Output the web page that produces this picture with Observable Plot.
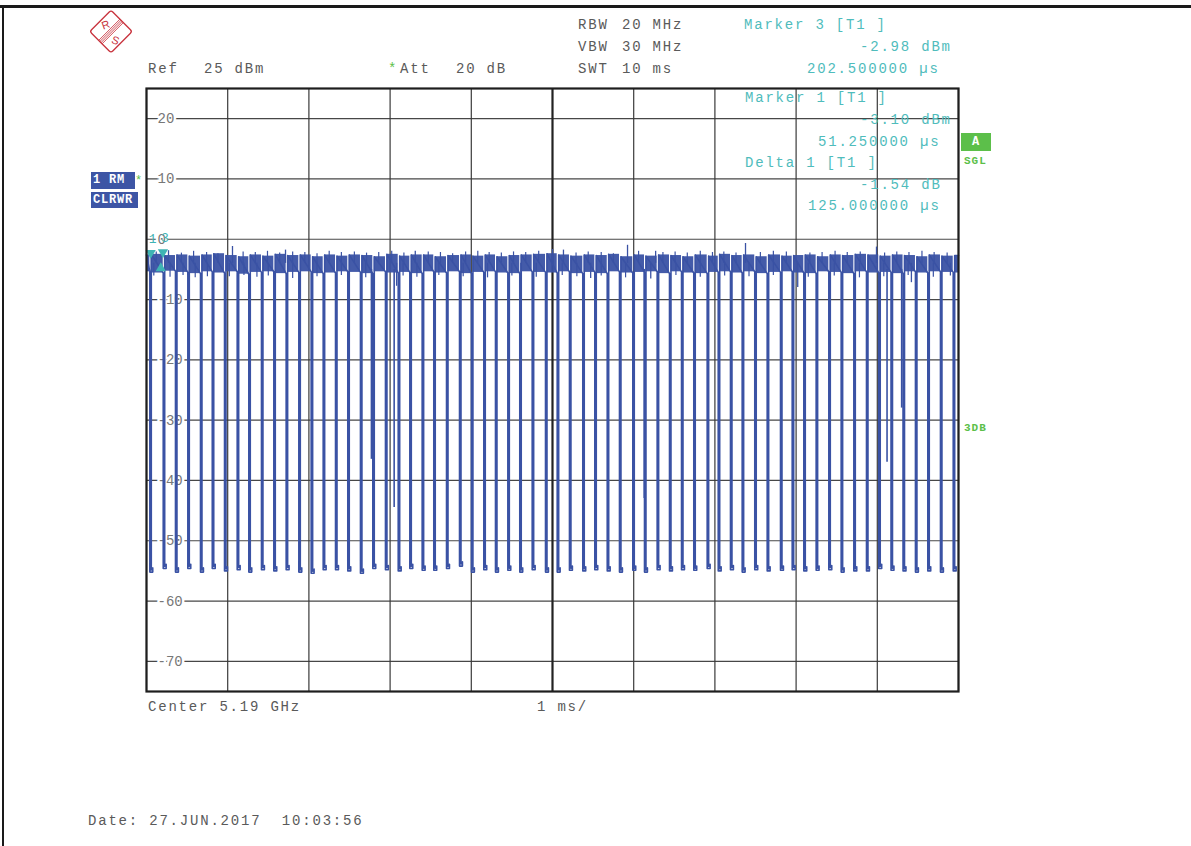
<!DOCTYPE html>
<html><head><meta charset="utf-8">
<script src="https://cdn.jsdelivr.net/npm/d3@7"></script>
<script src="https://cdn.jsdelivr.net/npm/@observablehq/plot@0.6"></script>
<style>
body{margin:0;background:#fff;}
#wrap{position:relative;width:1191px;height:846px;overflow:hidden;font-family:"Liberation Mono","DejaVu Sans Mono",monospace;background:#fff;}
#wrap svg.plot{position:absolute;left:0;top:0;}
.t{position:absolute;font-size:14px;letter-spacing:1.8px;white-space:pre;line-height:14px;transform:translateY(-50%);}
.g{color:#5a5a5a}
.c{color:#4fbcbc}
.gr{color:#5cbf4a}
.box{position:absolute;background:#3d55a5;color:#fff;font-weight:bold;font-size:12px;letter-spacing:0.8px;line-height:17px;padding-left:2px;box-sizing:border-box;}
</style></head>
<body>
<div id="wrap"></div>
<script>
// ---- data ----
const xTicks = [0,1,2,3,4,5,6,7,8,9,10];            // ms, 1 ms/div
const yTicks = [20,10,0,-10,-20,-30,-40,-50,-60,-70]; // dBm
const yLabels = ["20","10","0","-10","-20","-30","-40","-50","-60","-70"];

// dip (gap) times in ms and their depth in dBm
const dipTime = [0.041,0.206,0.357,0.509,0.665,0.810,0.961,1.117,1.260,1.416,
  1.568,1.720,1.876,2.028,2.176,2.328,2.479,2.635,2.787,2.943,
  3.100,3.243,3.395,3.538,3.695,3.855,4.002,4.154,4.298,4.450,
  4.597,4.750,4.914,5.058,5.209,5.373,5.521,5.674,5.825,5.989,
  6.133,6.289,6.441,6.589,6.740,6.905,7.041,7.192,7.336,7.491,
  7.644,7.808,7.952,8.095,8.247,8.403,8.555,8.711,8.867,9.018,
  9.169,9.317,9.470,9.622,9.778,9.935];
const dipDepth = [-55.2,-54.6,-55.2,-54.6,-55.2,-54.6,-55.0,-54.8,-55.2,-54.8,
  -55.0,-54.8,-55.2,-55.4,-54.8,-54.8,-55.0,-55.4,-54.6,-54.8,
  -55.0,-54.6,-54.9,-54.9,-54.6,-54.2,-55.2,-54.8,-55.2,-54.9,
  -55.2,-54.8,-55.2,-55.2,-54.9,-55.0,-54.8,-55.0,-55.2,-54.9,
  -55.2,-54.8,-55.0,-54.8,-54.9,-54.6,-55.0,-54.8,-55.2,-54.8,
  -55.0,-54.9,-54.8,-55.0,-54.9,-54.8,-55.2,-55.0,-55.0,-54.6,
  -54.9,-55.0,-55.2,-55.0,-55.2,-55.0];

// upper / lower edge of the noisy burst level between gaps (dBm)
const bandHigh = [-2.6,-2.5,-2.7,-2.6,-2.8,-2.6,-2.4,-2.7,-2.9,-2.6,
  -2.8,-2.5,-2.7,-2.6,-2.9,-2.6,-2.8,-2.6,-2.7,-2.9,
  -2.5,-2.8,-2.6,-2.6,-2.9,-2.7,-2.6,-2.8,-2.6,-2.9,
  -2.7,-2.6,-2.5,-2.4,-2.6,-2.8,-2.6,-2.7,-2.5,-2.9,
  -2.6,-2.8,-2.6,-2.7,-2.9,-2.6,-2.8,-2.5,-2.7,-2.6,
  -2.9,-2.6,-2.8,-2.7,-2.6,-2.9,-2.6,-2.7,-2.5,-2.6,
  -2.8,-2.6,-2.7,-2.9,-2.6,-2.8,-2.7];
const bandLow = [-5.4,-5.6,-5.3,-5.5,-5.7,-5.4,-5.6,-5.4,-5.8,-5.5,
  -5.4,-5.7,-5.5,-5.4,-5.7,-5.6,-5.4,-5.5,-5.7,-5.4,
  -5.6,-5.5,-5.7,-5.4,-5.6,-5.4,-5.7,-5.5,-5.4,-5.6,
  -5.7,-5.4,-5.5,-5.6,-5.4,-5.7,-5.5,-5.7,-5.4,-5.6,
  -5.5,-5.4,-5.7,-5.4,-5.6,-5.7,-5.5,-5.4,-5.6,-5.4,
  -5.7,-5.5,-5.4,-5.6,-5.7,-5.4,-5.5,-5.7,-5.4,-5.6,
  -5.5,-5.7,-5.4,-5.6,-5.4,-5.5,-5.6];

// isolated peaks above / below the burst level
const spikeTime  = [0.271,1.059,1.712,3.310,5.000,5.135,5.924,6.270,7.377,8.990,
                    1.020,3.080,4.610,5.470,6.210,8.020,9.420];
const spikeLevel = [-1.9,-1.2,-1.8,-2.0,-1.7,-1.8,-1.0,-2.0,-0.7,-1.3,
                    -6.2,-7.8,-6.3,-6.5,-6.6,-8.0,-7.2];

// small flags along the top and bottom edge of the burst level
const flagUpTime = [0.12,0.43,0.58,0.74,0.88,1.19,1.34,1.49,1.64,1.80,1.95,2.10,2.25,2.40,
  2.56,2.71,2.86,3.02,3.17,3.47,3.62,3.77,3.93,4.08,4.22,4.37,4.52,4.67,4.83,5.29,5.44,
  5.60,5.75,6.06,6.36,6.51,6.66,6.82,6.97,7.11,7.26,7.56,7.72,7.88,8.17,8.32,8.48,8.63,
  8.79,9.09,9.24,9.39,9.55,9.70,9.86];
const flagUpLevel = [-2.1,-2.3,-2.0,-2.2,-2.4,-2.1,-2.2,-2.0,-2.3,-2.1,-2.2,-2.4,-2.0,-2.2,
  -2.1,-2.3,-2.2,-2.0,-2.3,-2.1,-2.2,-2.4,-2.1,-2.0,-2.2,-2.3,-2.1,-2.2,-2.0,-2.3,-2.1,
  -2.2,-2.4,-2.0,-2.2,-2.1,-2.3,-2.0,-2.2,-2.1,-2.3,-2.2,-2.0,-2.1,-2.3,-2.2,-2.0,-2.2,
  -2.1,-2.3,-2.1,-2.2,-2.0,-2.2,-2.3];
const flagDownTime = [0.09,0.29,0.45,0.60,0.75,1.20,1.36,1.50,1.80,2.10,2.40,2.70,3.16,3.33,
  3.60,3.90,4.20,4.50,4.80,5.12,5.30,5.60,5.90,6.52,6.82,7.12,7.42,7.72,8.15,8.47,8.78,
  9.08,9.38,9.69,9.90];
const flagDownLevel = [-6.1,-6.3,-6.0,-6.4,-6.2,-6.0,-6.3,-6.1,-6.5,-6.2,-6.0,-6.4,-6.1,-6.3,
  -6.0,-6.2,-6.4,-6.1,-6.3,-6.0,-6.2,-6.1,-6.4,-6.0,-6.3,-6.1,-6.2,-6.0,-6.3,-6.1,-6.4,
  -6.2,-6.0,-6.3,-6.1];

// partial (not fully settled) gaps
const partTime  = [2.770,3.050,6.130,9.120,9.300];
const partLevel = [-36.5,-44.5,-43.0,-37.0,-28.0];

// markers
const markerName = ["1","3"];
const markerTime = [0.05125,0.2025];   // ms
const markerLevel = [-3.10,-2.98];     // dBm
const deltaTime = [0.05125 + 0.125];
const deltaLevel = [-3.10 - 1.54];

const traceColor = "#3a52a4";
const teal = "#3fb4b4";

// ---- build trace ----
const segs = [];
for (let s = 0; s <= dipTime.length; s++) {
  const x1 = s === 0 ? 0 : dipTime[s-1] + 0.018;
  const x2 = s === dipTime.length ? 10 : dipTime[s];
  segs.push({x1, x2, hi: bandHigh[s], lo: bandLow[s]});
}
const pts = [{t: 0, v: bandHigh[0]}];
dipTime.forEach((t, i) => {
  const d = dipDepth[i];
  pts.push({t, v: bandLow[i]});
  pts.push({t, v: d});
  pts.push({t: t + 0.036, v: d});
  pts.push({t: t + 0.036, v: d + 0.7});
  pts.push({t: t + 0.018, v: d + 0.35});
  pts.push({t: t + 0.018, v: bandHigh[i+1]});
});
pts.push({t: 10, v: bandHigh[bandHigh.length-1]});

const spikes = spikeTime.map((t, i) => ({t, v: spikeLevel[i]}));
const flags = flagUpTime.map((t, i) => ({t, v: flagUpLevel[i]}))
  .concat(flagDownTime.map((t, i) => ({t, v: flagDownLevel[i]})));
const parts = partTime.map((t, i) => ({t, v: partLevel[i]}));
const markers = markerName.map((n, i) => ({n, t: markerTime[i], v: markerLevel[i]}));
const deltas = deltaTime.map((t, i) => ({t, v: deltaLevel[i]}));
const yTickData = yTicks.map((v, i) => ({v, label: yLabels[i]}));

const chart = Plot.plot({
  width: 1191, height: 846,
  marginLeft: 146, marginRight: 233, marginTop: 88, marginBottom: 155,
  x: {domain: [0, 10], axis: null},
  y: {domain: [-75, 25], axis: null},
  style: {fontFamily: "Liberation Mono, monospace", fontSize: "13px", background: "transparent", overflow: "visible"},
  marks: [
    Plot.ruleY(yTicks, {stroke: "#474747", strokeWidth: 1.2}),
    Plot.ruleX(xTicks.filter(d => d !== 5), {stroke: "#3a3a3a", strokeWidth: 1.2}),
    Plot.ruleX([5], {stroke: "#222", strokeWidth: 2.2}),
    Plot.text(yTickData, {x: () => 0, y: "v", text: "label", dx: 11, textAnchor: "start",
      fill: "#777", stroke: "white", strokeWidth: 5, fontSize: 14, letterSpacing: 0.5}),
    Plot.rect(segs, {x1: "x1", x2: "x2", y1: "lo", y2: "hi", fill: traceColor, fillOpacity: 0.95}),
    Plot.ruleX(spikes, {x: "t", y1: -4, y2: "v", stroke: traceColor, strokeWidth: 1.3}),
    Plot.ruleX(flags, {x: "t", y1: -4, y2: "v", stroke: traceColor, strokeWidth: 1.2}),
    Plot.ruleX(parts, {x: "t", y1: -5, y2: "v", stroke: traceColor, strokeWidth: 1.6}),
    Plot.line(pts, {x: "t", y: "v", stroke: traceColor, strokeWidth: 1.6, curve: "linear"}),
    Plot.dot(markers, {x: "t", y: "v", symbol: "triangle", rotate: 180, r: 3.8, fill: teal, dy: -5}),
    Plot.text(markers, {x: "t", y: "v", text: "n", fill: teal, dy: -19, dx: 2, fontSize: 13}),
    Plot.dot(deltas, {x: "t", y: "v", symbol: "triangle", r: 3.8, fill: teal, dy: 1}),
    Plot.frame({stroke: "#1e1e1e", strokeWidth: 2.2})
  ]
});
chart.classList.add("plot");
const wrap = document.getElementById("wrap");
wrap.appendChild(chart);

// ---- annotations ----
function txt(s, x, y, cls, extra) {
  const d = document.createElement("div");
  d.className = "t " + cls;
  d.textContent = s;
  d.style.left = x + "px";
  d.style.top = y + "px";
  if (extra) Object.assign(d.style, extra);
  wrap.appendChild(d);
  return d;
}
txt("Ref", 148, 69, "g");
txt("25 dBm", 204, 69, "g");
txt("*", 388, 69, "gr");
txt("Att", 400, 69, "g");
txt("20 dB", 456, 69, "g");
txt("RBW", 578, 25, "g");
txt("20 MHz", 622, 25, "g");
txt("VBW", 578, 47, "g");
txt("30 MHz", 622, 47, "g");
txt("SWT", 578, 69, "g");
txt("10 ms", 622, 69, "g");

txt("Marker 3 [T1 ]", 744, 25, "c");
txt("-2.98 dBm", 860, 47, "c");
txt("202.500000 µs", 807, 69, "c");
txt("Marker 1 [T1 ]", 745, 98, "c");
txt("-3.10 dBm", 860, 120, "c");
txt("51.250000 µs", 818, 142, "c");
txt("Delta 1 [T1 ]", 745, 163, "c");
txt("-1.54 dB", 860, 185, "c");
txt("125.000000 µs", 808, 206, "c");

txt("Center 5.19 GHz", 148, 707, "g");
txt("1 ms/", 537, 707, "g");
txt("Date: 27.JUN.2017  10:03:56", 88, 821, "g");

txt("SGL", 964, 161, "gr", {fontWeight: "bold", fontSize: "11px", letterSpacing: "1px"});
txt("3DB", 964, 428, "gr", {fontWeight: "bold", fontSize: "11px", letterSpacing: "1px"});
txt("*", 135, 181, "gr", {fontSize: "12px"});

function box(s, x, y, w, h, bg) {
  const d = document.createElement("div");
  d.className = "box";
  d.textContent = s;
  Object.assign(d.style, {left: x + "px", top: y + "px", width: w + "px", height: h + "px"});
  if (bg) d.style.background = bg;
  wrap.appendChild(d);
  return d;
}
box("1 RM", 91, 172, 44, 17);
box("CLRWR", 91, 192, 47, 16).style.lineHeight = "16px";
const a = box("A", 961, 133, 30, 18, "#5cbf4a");
a.style.textAlign = "center"; a.style.paddingLeft = "0"; a.style.lineHeight = "18px";

// page borders
function bar(x, y, w, h) {
  const d = document.createElement("div");
  Object.assign(d.style, {position: "absolute", left: x + "px", top: y + "px", width: w + "px", height: h + "px", background: "#1a1a1a"});
  wrap.appendChild(d);
}
bar(0, 5, 1191, 3);
bar(2, 6, 2, 840);

// R&S logo
const ns = "http://www.w3.org/2000/svg";
const logo = document.createElementNS(ns, "svg");
logo.setAttribute("width", "50"); logo.setAttribute("height", "48");
logo.style.position = "absolute"; logo.style.left = "86px"; logo.style.top = "8px";
logo.innerHTML = `
<g transform="translate(25,23.5) rotate(45)" stroke="#c8323c" fill="none">
  <rect x="-15" y="-15" width="30" height="30" rx="2.5" stroke-width="1.3"/>
  <line x1="-2.4" y1="-15" x2="-2.4" y2="15" stroke-width="0.8"/>
  <line x1="-0.8" y1="-15" x2="-0.8" y2="15" stroke-width="0.8"/>
  <line x1="0.8" y1="-15" x2="0.8" y2="15" stroke-width="0.8"/>
  <line x1="2.4" y1="-15" x2="2.4" y2="15" stroke-width="0.8"/>
</g>
<text x="16" y="22" font-family="Liberation Sans, sans-serif" font-size="11" fill="#c8323c" transform="rotate(-20 16 18)">R</text>
<text x="26" y="36" font-family="Liberation Sans, sans-serif" font-size="11" fill="#c8323c" transform="rotate(20 29 32)">S</text>`;
wrap.appendChild(logo);
</script>
</body></html>
